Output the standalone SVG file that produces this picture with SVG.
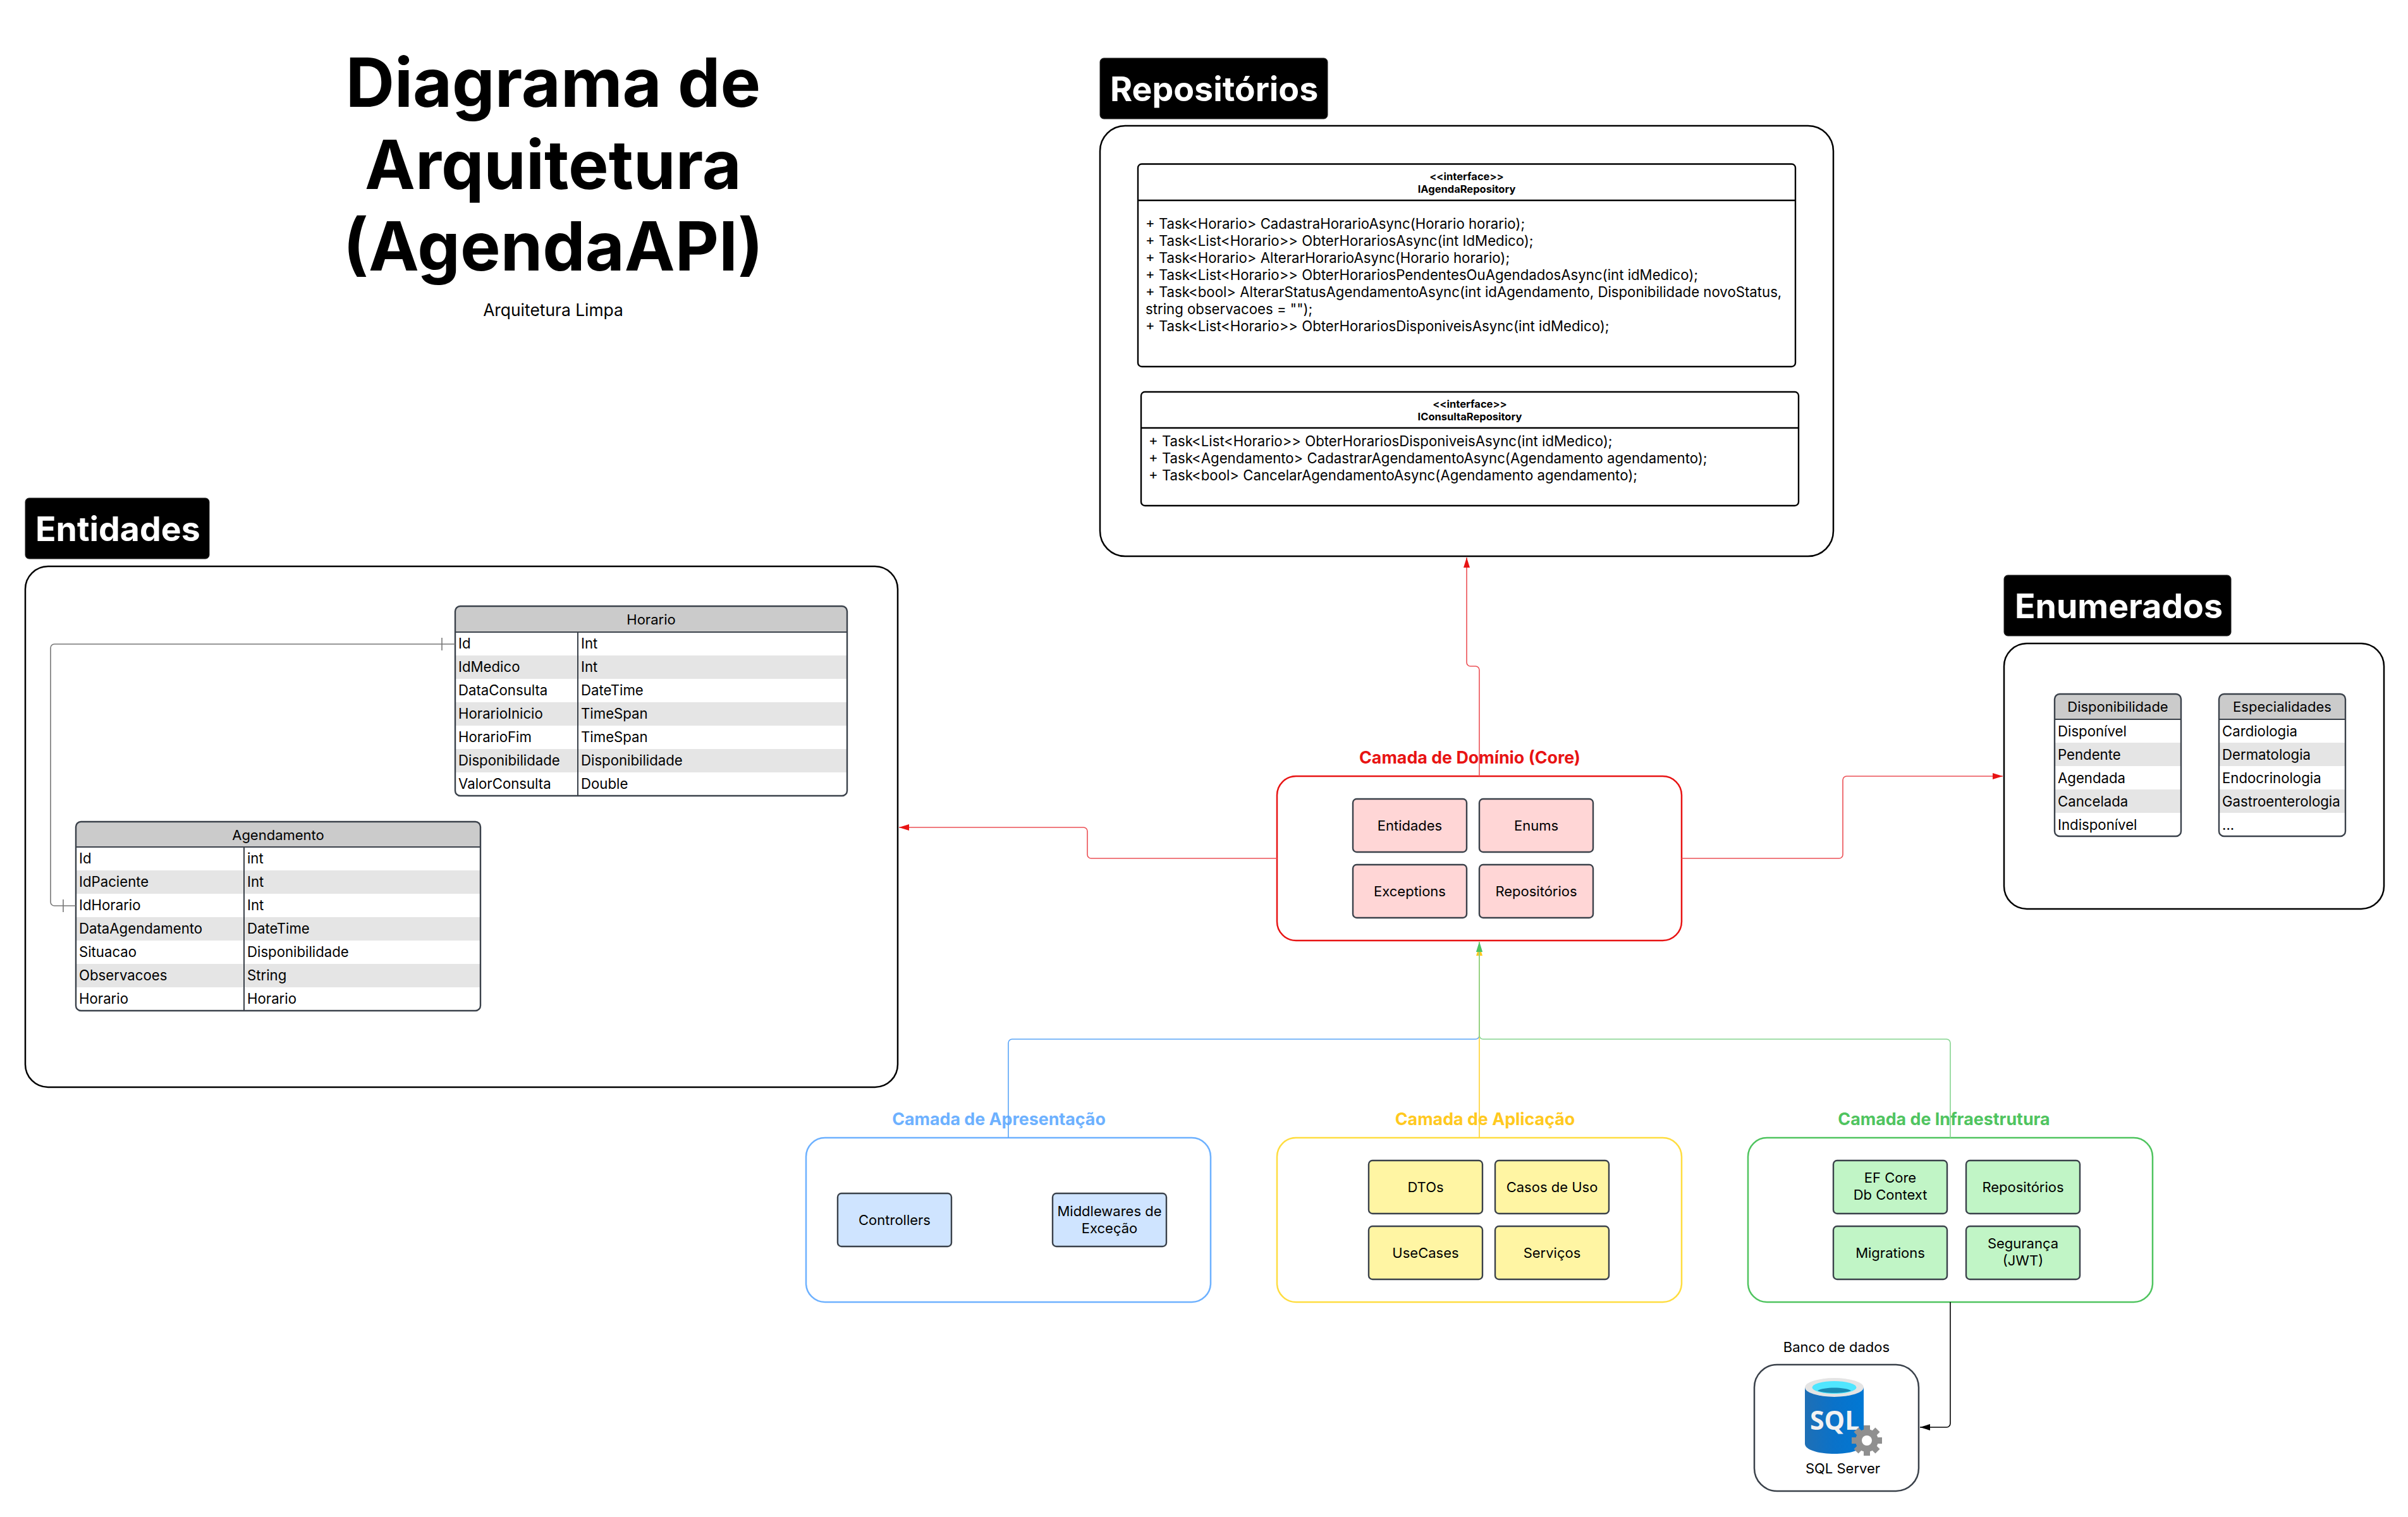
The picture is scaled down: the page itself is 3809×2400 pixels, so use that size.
<svg xmlns="http://www.w3.org/2000/svg" width="3809" height="2400" viewBox="0 0 3809 2400">
<style>
text{font-family:Inter,"Liberation Sans",sans-serif;fill:#000}
.title{font-size:107px;font-weight:700;text-anchor:middle}
.sub{font-size:26.4px;text-anchor:middle}
.tag{fill:#000;stroke:#222;stroke-width:1}
.tagt{font-size:53.6px;font-weight:700;fill:#fff}
.outer{fill:#fff;stroke:#000;stroke-width:2.5}
.cls{fill:#fff;stroke:#000;stroke-width:2.4}
.div{stroke:#000;stroke-width:2.4;fill:none}
.m{font-size:22.2px}
.h{font-size:16.5px;font-weight:700;text-anchor:middle}
.tbl{fill:none;stroke:#3a414a;stroke-width:2.4}
.hd{fill:#cbcbcb}
.alt{fill:#e5e5e5}
.sep{stroke:#3a414a;stroke-width:2;fill:none}
.r{font-size:22.2px}
.c{font-size:22px;text-anchor:middle}
.layer{font-size:26.8px;font-weight:700;text-anchor:middle}
.b{stroke:#3a414a;stroke-width:2.4}
.con{fill:none;stroke-width:1.6}
</style>
<defs>
<marker id="aRed" markerUnits="userSpaceOnUse" markerWidth="18" markerHeight="12" refX="16" refY="6" orient="auto"><path d="M0 1L16 6L0 11Z" fill="#e81313"/></marker>
<marker id="aBlue" markerUnits="userSpaceOnUse" markerWidth="18" markerHeight="12" refX="16" refY="6" orient="auto"><path d="M0 1L16 6L0 11Z" fill="#6db1ff"/></marker>
<marker id="aYellow" markerUnits="userSpaceOnUse" markerWidth="24" markerHeight="12" refX="22" refY="6" orient="auto"><path d="M0 1L16 6L0 11Z" fill="#ffc91f"/></marker>
<marker id="aGreen" markerUnits="userSpaceOnUse" markerWidth="18" markerHeight="12" refX="16" refY="6" orient="auto"><path d="M0 1L16 6L0 11Z" fill="#4fc45f"/></marker>
<marker id="aBlack" markerUnits="userSpaceOnUse" markerWidth="18" markerHeight="12" refX="16" refY="6" orient="auto"><path d="M0 1L16 6L0 11Z" fill="#000"/></marker>
<linearGradient id="cyl" x1="0" x2="1" y1="0" y2="0"><stop offset="0" stop-color="#1f6fb5"/><stop offset="0.5" stop-color="#0a72c9"/><stop offset="1" stop-color="#0078d4"/></linearGradient>
</defs>
<rect width="3809" height="2400" fill="#fff"/>

<g id="title">
<text class="title" x="875" y="169">Diagrama de</text>
<text class="title" x="875" y="299">Arquitetura</text>
<text class="title" x="875" y="428">(AgendaAPI)</text>
<text class="sub" x="875" y="500">Arquitetura Limpa</text>
</g>

<g id="repositorios">
<rect class="tag" x="1740" y="92" width="360" height="96" rx="6"/>
<text class="tagt" x="1756" y="160">Repositórios</text>
<rect class="outer" x="1740" y="199" width="1160" height="681" rx="40"/>
</g>
<g id="IAgendaRepository">
<rect class="cls" x="1800" y="259.500" width="1040" height="320.500" rx="6"/>
<path class="div" d="M1800 317H2840"/>
<text class="h" x="2320" y="285">&lt;&lt;interface&gt;&gt;</text>
<text class="h" x="2320" y="305">IAgendaRepository</text>
<text class="m" x="1812" y="362">+ Task&lt;Horario&gt; CadastraHorarioAsync(Horario horario);</text>
<text class="m" x="1812" y="389">+ Task&lt;List&lt;Horario&gt;&gt; ObterHorariosAsync(int IdMedico);</text>
<text class="m" x="1812" y="416">+ Task&lt;Horario&gt; AlterarHorarioAsync(Horario horario);</text>
<text class="m" x="1812" y="443">+ Task&lt;List&lt;Horario&gt;&gt; ObterHorariosPendentesOuAgendadosAsync(int idMedico);</text>
<text class="m" x="1812" y="470">+ Task&lt;bool&gt; AlterarStatusAgendamentoAsync(int idAgendamento, Disponibilidade novoStatus,</text>
<text class="m" x="1812" y="497">string observacoes = "");</text>
<text class="m" x="1812" y="524">+ Task&lt;List&lt;Horario&gt;&gt; ObterHorariosDisponiveisAsync(int idMedico);</text>
</g>
<g id="IConsultaRepository">
<rect class="cls" x="1805" y="620" width="1040" height="180" rx="6"/>
<path class="div" d="M1805 677H2845"/>
<text class="h" x="2325" y="645">&lt;&lt;interface&gt;&gt;</text>
<text class="h" x="2325" y="665">IConsultaRepository</text>
<text class="m" x="1817" y="706">+ Task&lt;List&lt;Horario&gt;&gt; ObterHorariosDisponiveisAsync(int idMedico);</text>
<text class="m" x="1817" y="733">+ Task&lt;Agendamento&gt; CadastrarAgendamentoAsync(Agendamento agendamento);</text>
<text class="m" x="1817" y="760">+ Task&lt;bool&gt; CancelarAgendamentoAsync(Agendamento agendamento);</text>
</g>

<g id="entidades">
<rect class="tag" x="40" y="788" width="291" height="96" rx="6"/>
<text class="tagt" x="56" y="856">Entidades</text>
<rect class="outer" x="40" y="896" width="1380" height="824" rx="36"/>
</g>
<g id="Horario">
<path class="hd" d="M720 1000V967a8 8 0 0 1 8-8H1332a8 8 0 0 1 8 8V1000Z"/>
<rect class="alt" x="720" y="1037" width="620" height="37"/>
<rect class="alt" x="720" y="1111" width="620" height="37"/>
<rect class="alt" x="720" y="1185" width="620" height="37"/>
<path class="sep" d="M914 1000V1259M720 1000H1340"/>
<rect class="tbl" x="720" y="959" width="620" height="300" rx="8"/>
<text class="c" x="1030" y="988">Horario</text>
<text class="r" x="725" y="1026">Id</text><text class="r" x="919" y="1026">Int</text>
<text class="r" x="725" y="1063">IdMedico</text><text class="r" x="919" y="1063">Int</text>
<text class="r" x="725" y="1100">DataConsulta</text><text class="r" x="919" y="1100">DateTime</text>
<text class="r" x="725" y="1137">HorarioInicio</text><text class="r" x="919" y="1137">TimeSpan</text>
<text class="r" x="725" y="1174">HorarioFim</text><text class="r" x="919" y="1174">TimeSpan</text>
<text class="r" x="725" y="1211">Disponibilidade</text><text class="r" x="919" y="1211">Disponibilidade</text>
<text class="r" x="725" y="1248">ValorConsulta</text><text class="r" x="919" y="1248">Double</text>
</g>
<g id="Agendamento">
<path class="hd" d="M120 1340V1308a8 8 0 0 1 8-8H752a8 8 0 0 1 8 8V1340Z"/>
<rect class="alt" x="120" y="1377" width="640" height="37"/>
<rect class="alt" x="120" y="1451" width="640" height="37"/>
<rect class="alt" x="120" y="1525" width="640" height="37"/>
<path class="sep" d="M386 1340V1599M120 1340H760"/>
<rect class="tbl" x="120" y="1300" width="640" height="299" rx="8"/>
<text class="c" x="440" y="1329">Agendamento</text>
<text class="r" x="125" y="1366">Id</text><text class="r" x="391" y="1366">int</text>
<text class="r" x="125" y="1403">IdPaciente</text><text class="r" x="391" y="1403">Int</text>
<text class="r" x="125" y="1440">IdHorario</text><text class="r" x="391" y="1440">Int</text>
<text class="r" x="125" y="1477">DataAgendamento</text><text class="r" x="391" y="1477">DateTime</text>
<text class="r" x="125" y="1514">Situacao</text><text class="r" x="391" y="1514">Disponibilidade</text>
<text class="r" x="125" y="1551">Observacoes</text><text class="r" x="391" y="1551">String</text>
<text class="r" x="125" y="1588">Horario</text><text class="r" x="391" y="1588">Horario</text>
</g>

<g id="enumerados">
<rect class="tag" x="3170" y="910" width="359" height="96" rx="6"/>
<text class="tagt" x="3187" y="978">Enumerados</text>
<rect class="outer" x="3170" y="1018" width="601" height="420" rx="36"/>
</g>
<g id="Disponibilidade">
<path class="hd" d="M3250 1138V1106a8 8 0 0 1 8-8H3442a8 8 0 0 1 8 8V1138Z"/>
<rect class="alt" x="3250" y="1175" width="200" height="37"/>
<rect class="alt" x="3250" y="1249" width="200" height="37"/>
<path class="sep" d="M3250 1138H3450"/>
<rect class="tbl" x="3250" y="1098" width="200" height="225" rx="8"/>
<text class="c" x="3350" y="1126">Disponibilidade</text>
<text class="r" x="3255" y="1165">Disponível</text>
<text class="r" x="3255" y="1202">Pendente</text>
<text class="r" x="3255" y="1239">Agendada</text>
<text class="r" x="3255" y="1276">Cancelada</text>
<text class="r" x="3255" y="1313">Indisponível</text>
</g>
<g id="Especialidades">
<path class="hd" d="M3510 1138V1106a8 8 0 0 1 8-8H3702a8 8 0 0 1 8 8V1138Z"/>
<rect class="alt" x="3510" y="1175" width="200" height="37"/>
<rect class="alt" x="3510" y="1249" width="200" height="37"/>
<path class="sep" d="M3510 1138H3710"/>
<rect class="tbl" x="3510" y="1098" width="200" height="225" rx="8"/>
<text class="c" x="3610" y="1126">Especialidades</text>
<text class="r" x="3515" y="1165">Cardiologia</text>
<text class="r" x="3515" y="1202">Dermatologia</text>
<text class="r" x="3515" y="1239">Endocrinologia</text>
<text class="r" x="3515" y="1276">Gastroenterologia</text>
<text class="r" x="3515" y="1313">...</text>
</g>

<g id="dominio">
<text class="layer" x="2325" y="1208" style="fill:#e81313">Camada de Domínio (Core)</text>
<rect x="2020" y="1228" width="640" height="260" rx="30" fill="#fff" stroke="#e81313" stroke-width="2.5"/>
<g fill="#ffd6d6" class="b">
<rect x="2140" y="1264" width="180" height="84" rx="6"/>
<rect x="2340" y="1264" width="180" height="84" rx="6"/>
<rect x="2140" y="1368" width="180" height="84" rx="6"/>
<rect x="2340" y="1368" width="180" height="84" rx="6"/>
</g>
<text class="c" x="2230" y="1314">Entidades</text>
<text class="c" x="2430" y="1314">Enums</text>
<text class="c" x="2230" y="1418">Exceptions</text>
<text class="c" x="2430" y="1418">Repositórios</text>
</g>

<g id="apresentacao">
<text class="layer" x="1580" y="1780" style="fill:#6db1ff">Camada de Apresentação</text>
<rect x="1275" y="1800" width="640" height="260" rx="30" fill="#fff" stroke="#6db1ff" stroke-width="2.5"/>
<g fill="#cfe4ff" class="b">
<rect x="1325" y="1888" width="180" height="84" rx="6"/>
<rect x="1665" y="1888" width="180" height="84" rx="6"/>
</g>
<text class="c" x="1415" y="1938">Controllers</text>
<text class="c" x="1755" y="1924">Middlewares de</text>
<text class="c" x="1755" y="1951">Exceção</text>
</g>

<g id="aplicacao">
<text class="layer" x="2349" y="1780" style="fill:#ffc91f">Camada de Aplicação</text>
<rect x="2020" y="1800" width="640" height="260" rx="30" fill="#fff" stroke="#ffdd40" stroke-width="2.5"/>
<g fill="#fff5a3" class="b">
<rect x="2165" y="1836" width="180" height="84" rx="6"/>
<rect x="2365" y="1836" width="180" height="84" rx="6"/>
<rect x="2165" y="1940" width="180" height="84" rx="6"/>
<rect x="2365" y="1940" width="180" height="84" rx="6"/>
</g>
<text class="c" x="2255" y="1886">DTOs</text>
<text class="c" x="2455" y="1886">Casos de Uso</text>
<text class="c" x="2255" y="1990">UseCases</text>
<text class="c" x="2455" y="1990">Serviços</text>
</g>

<g id="infraestrutura">
<text class="layer" x="3075" y="1780" style="fill:#4fc45f">Camada de Infraestrutura</text>
<rect x="2765" y="1800" width="640" height="260" rx="30" fill="#fff" stroke="#4fc45f" stroke-width="2.5"/>
<g fill="#c1f5c6" class="b">
<rect x="2900" y="1836" width="180" height="84" rx="6"/>
<rect x="3110" y="1836" width="180" height="84" rx="6"/>
<rect x="2900" y="1940" width="180" height="84" rx="6"/>
<rect x="3110" y="1940" width="180" height="84" rx="6"/>
</g>
<text class="c" x="2990" y="1871">EF Core</text>
<text class="c" x="2990" y="1898">Db Context</text>
<text class="c" x="3200" y="1886">Repositórios</text>
<text class="c" x="2990" y="1990">Migrations</text>
<text class="c" x="3200" y="1975">Segurança</text>
<text class="c" x="3200" y="2002">(JWT)</text>
</g>

<g id="banco">
<text class="c" x="2905" y="2139">Banco de dados</text>
<rect x="2775" y="2159" width="260" height="200" rx="36" fill="#fff" stroke="#3a414a" stroke-width="2.5"/>
<path d="M2855 2195V2284C2855 2294 2877 2300 2901.500 2300S2948 2294 2948 2284V2195Z" fill="url(#cyl)"/>
<ellipse cx="2901.500" cy="2195" rx="46.500" ry="15" fill="#e4e4e4"/>
<ellipse cx="2901.500" cy="2195" rx="35" ry="10" fill="#50e6ff"/>
<path d="M2875 2200C2885 2194 2918 2194 2928 2200C2918 2205 2885 2205 2875 2200Z" fill="#198ab3"/>
<text x="2863" y="2262" style="font-family:'Open Sans',sans-serif;font-weight:700;font-size:41px;fill:#f2f2f2">SQL</text>
<g transform="translate(2953 2279)" fill="#8f8f8f">
<circle r="18"/>
<path d="M-5-24H5V-14H-5Z"/><path d="M-5-24H5V-14H-5Z" transform="rotate(45)"/><path d="M-5-24H5V-14H-5Z" transform="rotate(90)"/><path d="M-5-24H5V-14H-5Z" transform="rotate(135)"/><path d="M-5-24H5V-14H-5Z" transform="rotate(180)"/><path d="M-5-24H5V-14H-5Z" transform="rotate(225)"/><path d="M-5-24H5V-14H-5Z" transform="rotate(270)"/><path d="M-5-24H5V-14H-5Z" transform="rotate(315)"/>
<circle r="8" fill="#fff"/>
</g>
<text class="c" x="2915" y="2331">SQL Server</text>
</g>

<g id="connectors">
<path class="con" stroke="#777" d="M720 1019H86a6 6 0 0 0-6 6V1427a6 6 0 0 0 6 6H120"/>
<path class="con" stroke="#777" d="M699 1009V1029M100 1423V1443"/>
<path class="con" stroke="#ec5055" marker-end="url(#aRed)" d="M2340 1228V1060a6 6 0 0 0-6-6H2326a6 6 0 0 1-6-6V882"/>
<path class="con" stroke="#ec5055" marker-end="url(#aRed)" d="M2020 1358H1726a6 6 0 0 1-6-6V1315a6 6 0 0 0-6-6H1422"/>
<path class="con" stroke="#ec5055" marker-end="url(#aRed)" d="M2660 1358H2909a6 6 0 0 0 6-6V1234a6 6 0 0 1 6-6H3168"/>
<path class="con" stroke="#5aa5f8" marker-end="url(#aBlue)" d="M1595 1800V1650a6 6 0 0 1 6-6H2334a6 6 0 0 0 6-6V1490"/>
<path class="con" stroke="#ffd22e" marker-end="url(#aYellow)" d="M2340 1800V1490"/>
<path class="con" stroke="#85d48f" marker-end="url(#aGreen)" d="M3085 1800V1650a6 6 0 0 0-6-6H2346a6 6 0 0 1-6-6V1490"/>
<path class="con" stroke="#000" marker-end="url(#aBlack)" d="M3085 2060V2252a6 6 0 0 1-6 6H3037"/>
</g>
</svg>
